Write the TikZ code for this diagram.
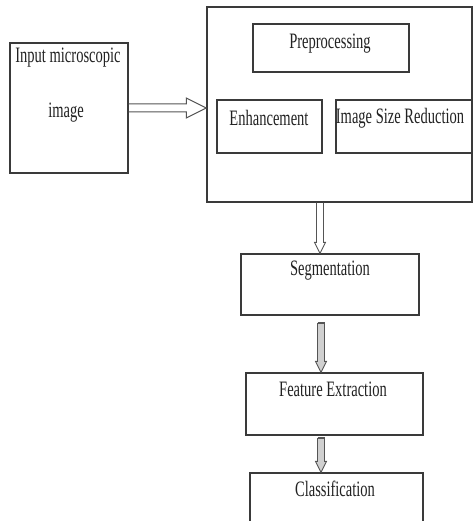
\documentclass[tikz,border=0pt]{standalone}
\usepackage{fontspec}
\setmainfont{Liberation Serif}[FakeStretch=0.66]
\usetikzlibrary{calc}
\definecolor{boxc}{HTML}{3A3A3A}
\definecolor{txtc}{HTML}{222222}
\definecolor{arrc}{HTML}{555555}
\definecolor{shaftc}{HTML}{D0D0D0}
\newcommand\vhollow[3]{%
  \draw[#3] let \p1=(#1), \p2=(#2) in
    (\x1-3.5pt,\y1) -- (\x1-3.5pt,\y2+11pt) -- (\x1-5.5pt,\y2+11pt) -- (\x1,\y2)
    -- (\x1+5.5pt,\y2+11pt) -- (\x1+3.5pt,\y2+11pt) -- (\x1+3.5pt,\y1);}
\begin{document}
\begin{tikzpicture}[x=1pt,y=-1pt,
  box/.style={draw=boxc, line width=1.3pt, inner sep=0pt},
  txt/.style={text=txtc, inner sep=0pt, font=\fontsize{22}{24}\selectfont},
  harrow/.style={draw=arrc, line width=1pt, line join=miter},
  varrow/.style={draw=arrc, line width=0.9pt},
  varrowf/.style={draw=arrc, fill=shaftc, line width=0.9pt}]
\useasboundingbox (0,0) rectangle (474,521);
\clip (0,0) rectangle (474,521);
\fill[white] (0,0) rectangle (474,521);
% boxes
\node[box, minimum width=118pt, minimum height=130pt] (in)  at (69,108) {};
\node[box, minimum width=265pt, minimum height=195pt] (big) at (339.5,104.5) {};
\node[box, minimum width=156pt, minimum height=48pt]  (pre) at (331,48) {};
\node[box, minimum width=105pt, minimum height=53pt]  (enh) at (269.5,126.5) {};
\node[box, minimum width=136pt, minimum height=53pt]  (isr) at (404,126.5) {};
\node[box, minimum width=178pt, minimum height=61pt]  (seg) at (330,284.5) {};
\node[box, minimum width=177pt, minimum height=62pt]  (fe)  at (334.5,404) {};
\node[box, minimum width=173pt, minimum height=67pt]  (cls) at (336.5,506.5) {};
% texts
\node[txt] (tin1) at (68,58) {Input microscopic};
\node[txt] (tin2) at (66,113) {image};
\node[txt] (tpre) at (330,44) {Preprocessing};
\node[txt] (tenh) at (269,118) {Enhancement};
\node[txt] (tisr) at (400,118) {Image Size Reduction};
\node[txt] (tseg) at (330,271) {Segmentation};
\node[txt] (tfe)  at (333,389) {Feature Extraction};
\node[txt] (tcls) at (335,489) {Classification};
% horizontal hollow arrow
\coordinate (htip) at (in.east -| big.west);
\draw[harrow] ($(in.east)+(0,-4)$) -- ($(htip)+(-20,-4)$) -- ($(htip)+(-20,-10)$)
  -- (htip) -- ($(htip)+(-20,10)$) -- ($(htip)+(-20,4)$) -- ($(in.east)+(0,4)$);
% vertical arrows
\coordinate (a1) at ($(big.south)+(-19.5,0)$);
\coordinate (a2) at (321,323);
\coordinate (a3) at (321,438);
\vhollow{a1}{a1 |- seg.north}{varrow}
\vhollow{a2}{a2 |- fe.north}{varrowf}
\draw[arrc, line width=1.2pt] ($(a2)+(-3.5,0)$) -- ($(a2)+(3.5,0)$);
\vhollow{a3}{a3 |- cls.north}{varrowf}
\draw[arrc, line width=1.2pt] ($(a3)+(-3.5,0)$) -- ($(a3)+(3.5,0)$);
\end{tikzpicture}
\end{document}
